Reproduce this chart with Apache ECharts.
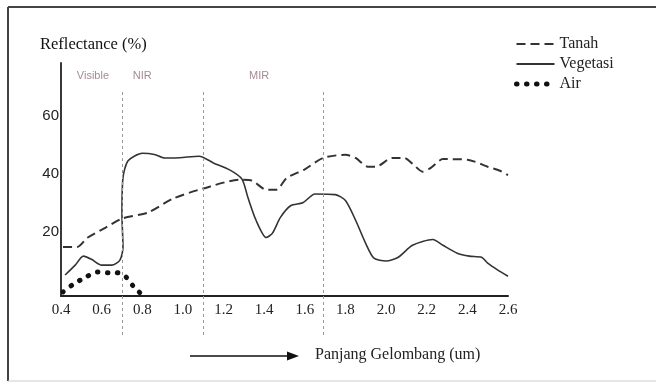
<!DOCTYPE html>
<html>
<head>
<meta charset="utf-8">
<script src="https://cdn.jsdelivr.net/npm/echarts@6/dist/echarts.min.js"></script>
<style>
  html, body { margin: 0; padding: 0; background: #fff; }
  #chart { width: 656px; height: 386px; }
</style>
</head>
<body>
<div id="chart"></div>
<script>
// data: [wavelength (um), reflectance (%)]
var tanah = [
  [0.41, 16.8], [0.48, 16.8], [0.53, 20], [0.62, 23.5], [0.70, 26.6], [0.83, 28.7],
  [0.95, 33.4], [1.10, 36.9], [1.28, 39.9], [1.34, 39.6], [1.41, 36.5], [1.46, 36.5],
  [1.51, 40.5], [1.60, 43.5], [1.69, 47.4], [1.80, 48.5], [1.85, 47.4], [1.91, 44.4],
  [1.95, 44.4], [2.03, 47.4], [2.09, 47.4], [2.13, 45.4], [2.18, 42.7], [2.22, 44],
  [2.28, 47], [2.40, 46.8], [2.50, 44.4], [2.56, 43], [2.60, 41.5]
];
var vegetasi = [
  [0.42, 7.2], [0.47, 10.6], [0.51, 13.7], [0.55, 12.6], [0.60, 10.6], [0.65, 10.6],
  [0.69, 12.3], [0.705, 16.7], [0.70, 28], [0.705, 40.6], [0.73, 46.4], [0.80, 49],
  [0.86, 48.6], [0.91, 47.4], [0.96, 47.4], [1.08, 48], [1.15, 45.7], [1.23, 43.3],
  [1.29, 40.2], [1.32, 33.8], [1.36, 26], [1.41, 20.1], [1.44, 21.5], [1.48, 27],
  [1.53, 31], [1.59, 32], [1.65, 35], [1.75, 34.8], [1.80, 32.8], [1.85, 26],
  [1.90, 18], [1.94, 13], [2.00, 12], [2.06, 13.3], [2.13, 17.4], [2.23, 19.4],
  [2.28, 17.4], [2.35, 14.7], [2.41, 13.7], [2.47, 13.3], [2.50, 11.3], [2.55, 8.9],
  [2.60, 6.8]
];
var air = [
  [0.41, 1.4], [0.46, 4], [0.51, 6], [0.58, 8.2], [0.63, 8], [0.67, 8],
  [0.71, 7.2], [0.76, 3], [0.79, 1]
];
var seriesNames = ["Tanah", "Vegetasi", "Air"];
// spectral regions
var dividers = [0.70, 1.10, 1.69];
var regionNames = ["Visible", "NIR", "MIR"];
var regionX = [0.557, 0.80, 1.375];
// axis ticks
var xMin = 0.4, xMax = 2.6, xStep = 0.2;
var yMin = 0, yMax = 80, yStep = 20;
var yLabels = [20, 40, 60];

var serif = "'Liberation Serif', 'Times New Roman', serif";
var sans = "'Liberation Sans', Arial, sans-serif";

var airDots = { color: "#111", width: 5, type: [0.5, 9.5], cap: "round" };

var chart = echarts.init(document.getElementById("chart"));

var option = {
  animation: false,
  backgroundColor: "#fff",
  grid: [
    { left: 61, right: 148, top: 63, bottom: 90 },
    // only used for the vertical divider lines (they run past the x axis)
    { left: 61, right: 148, top: 92, bottom: 51 }
  ],
  legend: {
    data: [
      { name: seriesNames[0] },
      { name: seriesNames[1] },
      { name: seriesNames[2], lineStyle: airDots }
    ],
    orient: "vertical",
    left: 509,
    top: 31,
    itemWidth: 38,
    itemHeight: 15,
    itemGap: 4,
    itemStyle: { opacity: 0 }, // no symbol, only the line sample
    textStyle: { fontFamily: serif, fontSize: 16, color: "#222", lineHeight: 15 }
  },
  xAxis: [
    {
      type: "value",
      gridIndex: 0,
      min: xMin,
      max: xMax,
      interval: xStep,
      axisLine: { lineStyle: { color: "#222", width: 2 } },
      axisTick: { show: false },
      splitLine: { show: false },
      axisLabel: {
        margin: 7,
        fontFamily: serif,
        fontSize: 15,
        color: "#222",
        formatter: function (v) { return v.toFixed(1); }
      }
    },
    { type: "value", gridIndex: 1, min: xMin, max: xMax, show: false }
  ],
  yAxis: [
    {
      type: "value",
      gridIndex: 0,
      min: yMin,
      max: yMax,
      interval: yStep,
      name: "Reflectance (%)",
      nameLocation: "end",
      nameGap: 10,
      nameTextStyle: { fontFamily: serif, fontSize: 16.5, color: "#111", align: "left", padding: [0, 0, 0, -21] },
      axisLine: { show: true, lineStyle: { color: "#222", width: 1.8 } },
      axisTick: { show: false },
      splitLine: { show: false },
      axisLabel: {
        margin: 2,
        fontFamily: sans,
        fontSize: 15,
        color: "#222",
        verticalAlign: "bottom",
        lineHeight: 11,
        formatter: function (v) { return yLabels.indexOf(v) >= 0 ? String(v) : ""; }
      }
    },
    { type: "value", gridIndex: 1, min: 0, max: 1, show: false }
  ],
  series: [
    {
      name: "Tanah",
      type: "line",
      data: tanah,
      symbol: "none",
      smooth: 0.25,
      lineStyle: { color: "#333", width: 2, type: [9, 5] },
      itemStyle: { color: "#333" }
    },
    {
      name: "Vegetasi",
      type: "line",
      data: vegetasi,
      symbol: "none",
      smooth: 0.25,
      lineStyle: { color: "#333", width: 1.6 },
      itemStyle: { color: "#333" }
    },
    {
      name: "Air",
      type: "line",
      data: air,
      symbol: "none",
      smooth: 0.3,
      lineStyle: airDots,
      itemStyle: { color: "#111" }
    },
    {
      name: "regions",
      type: "scatter",
      symbolSize: 0,
      silent: true,
      data: regionX.map(function (x, i) { return [x, 75.5, regionNames[i]]; }),
      label: {
        show: true,
        position: "inside",
        formatter: function (p) { return p.data[2]; },
        fontFamily: sans,
        fontSize: 11,
        color: "#8e6d7c"
      }
    },
    {
      name: "dividers",
      type: "line",
      xAxisIndex: 1,
      yAxisIndex: 1,
      data: [],
      markLine: {
        silent: true,
        symbol: "none",
        label: { show: false },
        lineStyle: { color: "#999", width: 1, type: [3, 3] },
        data: dividers.map(function (v) { return { xAxis: v }; })
      }
    }
  ],
  graphic: [
    // frame round the figure
    { type: "line", shape: { x1: 8, y1: 7, x2: 8, y2: 381 }, style: { stroke: "#444", lineWidth: 2 } },
    { type: "line", shape: { x1: 8, y1: 7, x2: 656, y2: 7 }, style: { stroke: "#444", lineWidth: 2 } },
    { type: "line", shape: { x1: 8, y1: 381, x2: 656, y2: 381 }, style: { stroke: "#ccc", lineWidth: 1 } },
    // x axis title with arrow
    { type: "line", shape: { x1: 190, y1: 356, x2: 290, y2: 356 }, style: { stroke: "#111", lineWidth: 1.5 } },
    { type: "polygon", shape: { points: [[287, 351.5], [299, 356], [287, 360.5]] }, style: { fill: "#111" } },
    {
      type: "text",
      left: 315,
      top: 347,
      style: { text: "Panjang Gelombang (um)", font: "16px " + serif, fill: "#222" }
    }
  ]
};

chart.setOption(option);
</script>
</body>
</html>
